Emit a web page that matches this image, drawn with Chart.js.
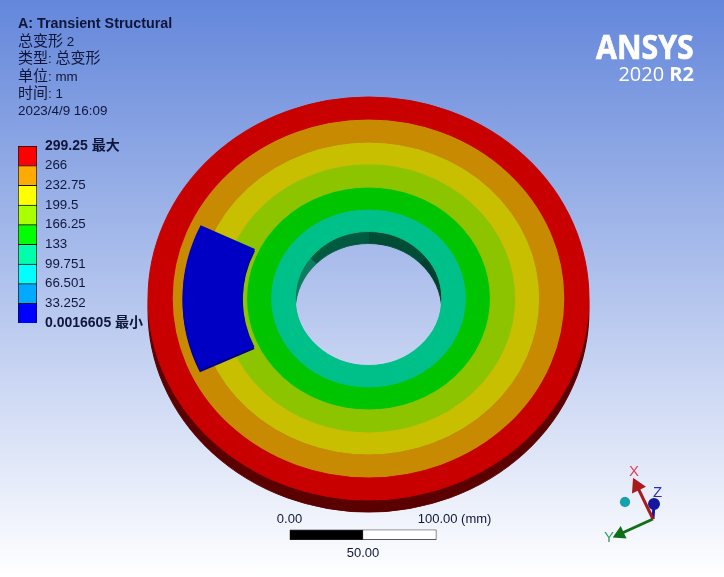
<!DOCTYPE html>
<html>
<head>
<meta charset="utf-8">
<script src="https://cdn.jsdelivr.net/npm/chart.js@4"></script>
<style>
    html, body { margin: 0; padding: 0; }
    body {
        width: 724px; height: 577px; overflow: hidden; position: relative;
        background: linear-gradient(#6487db, #ffffff);
        font-family: "Liberation Sans", "Noto Sans CJK SC", sans-serif;
        color: #10163a;
    }
    canvas { position: absolute; }
    .txt { position: absolute; white-space: nowrap; font-size: 13.4px; line-height: 16px; }
    .cjk { font-size: 15px; }
    .axis { font-size: 15px; }
    .logo { position: absolute; right: 30px; color: #fff; white-space: nowrap; }
</style>
</head>
<body>
<canvas id="side" width="724" height="577" style="left:0;top:0"></canvas>
<canvas id="face" width="724" height="577" style="left:0;top:0"></canvas>
<canvas id="wedgeEdge" width="724" height="577" style="left:0;top:0"></canvas>
<canvas id="wedge" width="724" height="577" style="left:0;top:0"></canvas>
<canvas id="legendBar" width="150" height="215" style="left:0;top:130px"></canvas>
<canvas id="scaleBar" width="300" height="60" style="left:230px;top:510px"></canvas>
<canvas id="triad" width="90" height="100" style="left:590px;top:450px"></canvas>

<div class="txt" style="left:18px;top:15px;font-weight:bold;font-size:14.3px">A: Transient Structural</div>
<div class="txt" style="left:18px;top:33px"><span class="cjk">总变形</span> 2</div>
<div class="txt" style="left:18px;top:50px"><span class="cjk">类型</span>: <span class="cjk">总变形</span></div>
<div class="txt" style="left:18px;top:68px"><span class="cjk">单位</span>: mm</div>
<div class="txt" style="left:18px;top:85px"><span class="cjk">时间</span>: 1</div>
<div class="txt" style="left:18px;top:103px">2023/4/9 16:09</div>

<div class="logo" style="top:25px;font:bold 34px/42px 'Open Sans';-webkit-text-stroke:0.7px #fff;transform:scaleX(0.89);transform-origin:right">ANSYS</div>
<div class="logo" style="top:62px;font:20px/24px 'Open Sans'">2020 <b>R2</b></div>

<div class="txt axis" style="left:629px;top:463px;color:#e0405e">X</div>
<div class="txt axis" style="left:653px;top:484px;color:#2a2ad0">Z</div>
<div class="txt axis" style="left:604px;top:529px;color:#35a060">Y</div>

<script>
// Contour bands on the disc, outer to inner (band widths in px of the top face)
const ringWidths = [22, 23, 22, 23, 22, 22.5];
const ringColors = ['#c80000', '#c88a00', '#c8bf00', '#8cc400', '#00c400', '#00c08a'];
const discRadius = 201.5;
const holeRadius = 67;

// Extruded side of the disc and the wall seen through the hole
const sideWidths = [121.5, 13];
const sideColor = '#5a0000';
const wallSlices = [45, 45, 180, 45, 45];
const wallColors = ['#004c34', '#00402e', '#00402e', '#0e7a60', '#005a40'];

// Blue minimum region
const wedgeSlices = [50.5, 309.5];
const wedgeStart = 245;
const wedgeOuter = 170;
const wedgeInner = 115;

// Legend
const legendValues = [0.0016605, 33.252, 66.501, 99.751, 133, 166.25, 199.5, 232.75, 266, 299.25];
const legendLabels = ['0.0016605 最小', '33.252', '66.501', '99.751', '133', '166.25', '199.5', '232.75', '266', '299.25 最大'];
const legendColors = ['#0000ff', '#00aaff', '#00ffff', '#00ffaa', '#00ff00', '#aaff00', '#ffff00', '#ffaa00', '#ff0000'];

// Scale bar (mm)
const scaleStops = [0, 50, 100];
const scaleColors = ['#000000', '#ffffff'];

// Triad
const triadX = [{ x: 0, y: 0 }, { x: -16, y: 33 }];
const triadY = [{ x: 0, y: 0 }, { x: -33, y: -15 }];
const triadZ = [{ x: 0, y: 0 }, { x: 1, y: 15 }];
const triadBall = [{ x: -28, y: 17 }];

Chart.defaults.animation = false;
Chart.defaults.responsive = false;
Chart.defaults.plugins.legend.display = false;
Chart.defaults.plugins.tooltip.enabled = false;

// View of the disc: squash into an ellipse and move to its place on the page
function discView(dy) {
    return {
        id: 'discView',
        beforeDatasetsDraw(chart) {
            const a = chart.chartArea;
            const ctx = chart.ctx;
            ctx.save();
            ctx.translate(368.5, 298.5 + dy);
            ctx.scale(1.094, 1);
            ctx.translate(-(a.left + a.right) / 2, -(a.top + a.bottom) / 2);
        },
        afterDatasetsDraw(chart) {
            chart.ctx.restore();
        }
    };
}

function discChart(id, datasets, radius, inner, rotation, dy) {
    new Chart(document.getElementById(id), {
        type: 'doughnut',
        data: { datasets: datasets },
        options: { radius: radius, cutout: (inner / radius * 100) + '%', rotation: rotation },
        plugins: [discView(dy)]
    });
}

// same colour on the border so neighbouring rings leave no seam
discChart('side', [
    { data: [1], backgroundColor: [sideColor], borderColor: [sideColor], borderWidth: 1, weight: sideWidths[0] },
    { data: wallSlices, backgroundColor: wallColors, borderColor: wallColors, borderWidth: 1, weight: sideWidths[1] }
], discRadius, holeRadius, 0, 12);

discChart('face', ringWidths.map((w, i) => ({
    data: [1],
    backgroundColor: [ringColors[i]],
    borderColor: [ringColors[i]],
    borderWidth: 1,
    weight: w
})), discRadius, holeRadius, 0, 0);

discChart('wedgeEdge', [{ data: wedgeSlices, backgroundColor: ['#00007c', 'rgba(0,0,0,0)'], borderWidth: 0 }],
    wedgeOuter, wedgeInner, wedgeStart, 2);
discChart('wedge', [{ data: wedgeSlices, backgroundColor: ['#0000c4', 'rgba(0,0,0,0)'], borderWidth: 0 }],
    wedgeOuter, wedgeInner, wedgeStart, 0);

// Colour legend
new Chart(document.getElementById('legendBar'), {
    type: 'bar',
    data: {
        labels: [''],
        datasets: legendColors.map((c, i) => ({
            data: [[legendValues[i], legendValues[i + 1]]],
            backgroundColor: c,
            borderColor: '#101010',
            borderWidth: 1,
            barPercentage: 1,
            categoryPercentage: 1
        }))
    },
    options: {
        layout: { padding: { left: 18, top: 16, bottom: 22 } },
        scales: {
            x: { display: false, stacked: true },
            y: {
                position: 'right',
                min: legendValues[0],
                max: legendValues[legendValues.length - 1],
                grid: { display: false },
                border: { display: false },
                afterBuildTicks: scale => { scale.ticks = legendValues.map(v => ({ value: v })); },
                afterFit: scale => { scale.width = 113; },
                ticks: {
                    padding: 0,
                    color: '#10163a',
                    autoSkip: false,
                    callback: (v, i) => legendLabels[i],
                    font: ctx => {
                        const bold = ctx.index === 0 || ctx.index === legendValues.length - 1;
                        return { family: '"Liberation Sans", "Noto Sans CJK SC"', size: bold ? 14 : 13.3, weight: bold ? 'bold' : 'normal' };
                    }
                }
            }
        }
    }
});

// Scale bar
new Chart(document.getElementById('scaleBar'), {
    type: 'bar',
    data: {
        labels: [''],
        datasets: scaleColors.map((c, i) => ({
            data: [[scaleStops[i], scaleStops[i + 1]]],
            backgroundColor: c,
            borderColor: '#202020',
            borderWidth: 1,
            barPercentage: 1,
            categoryPercentage: 1,
            xAxisID: 'x'
        }))
    },
    options: {
        indexAxis: 'y',
        layout: { padding: { left: 59.5, right: 93.5 } },
        scales: {
            y: { display: false, stacked: true },
            x: {
                position: 'top', min: 0, max: 100,
                grid: { display: false, drawTicks: false }, border: { display: false },
                afterBuildTicks: scale => { scale.ticks = [{ value: scaleStops[0] }, { value: scaleStops[2] }]; },
                afterFit: scale => { scale.height = 19.5; },
                ticks: {
                    padding: 2, color: '#10163a', maxRotation: 0, autoSkip: false,
                    font: { family: '"Liberation Sans"', size: 13 },
                    callback: v => v === 0 ? '0.00' : '\u00a0'.repeat(10) + '100.00 (mm)'
                }
            },
            x2: {
                axis: 'x', type: 'linear', position: 'bottom', min: 0, max: 100,
                grid: { display: false, drawTicks: false }, border: { display: false },
                afterBuildTicks: scale => { scale.ticks = [{ value: scaleStops[1] }]; },
                afterFit: scale => { scale.height = 30; },
                ticks: {
                    padding: 6, color: '#10163a', maxRotation: 0,
                    font: { family: '"Liberation Sans"', size: 13 },
                    callback: () => '50.00'
                }
            }
        }
    }
});

// Triad
new Chart(document.getElementById('triad'), {
    type: 'scatter',
    data: {
        datasets: [
            { data: triadBall, backgroundColor: '#12a4ac', pointRadius: 5 },
            { data: triadX, showLine: true, borderColor: '#a81c1c', backgroundColor: '#a81c1c', borderWidth: 3, pointStyle: 'triangle', pointRadius: [0, 6], pointRotation: -26 },
            { data: triadY, showLine: true, borderColor: '#0f7018', backgroundColor: '#0f7018', borderWidth: 3, pointStyle: 'triangle', pointRadius: [0, 5], pointRotation: -115 },
            { data: triadZ, showLine: true, borderColor: '#1418a0', backgroundColor: '#1418a0', borderWidth: 3, pointRadius: [0, 4.5] }
        ]
    },
    options: {
        layout: { autoPadding: false },
        scales: {
            x: { display: false, min: -63, max: 27 },
            y: { display: false, min: -31, max: 69 }
        }
    }
});
</script>
</body>
</html>
